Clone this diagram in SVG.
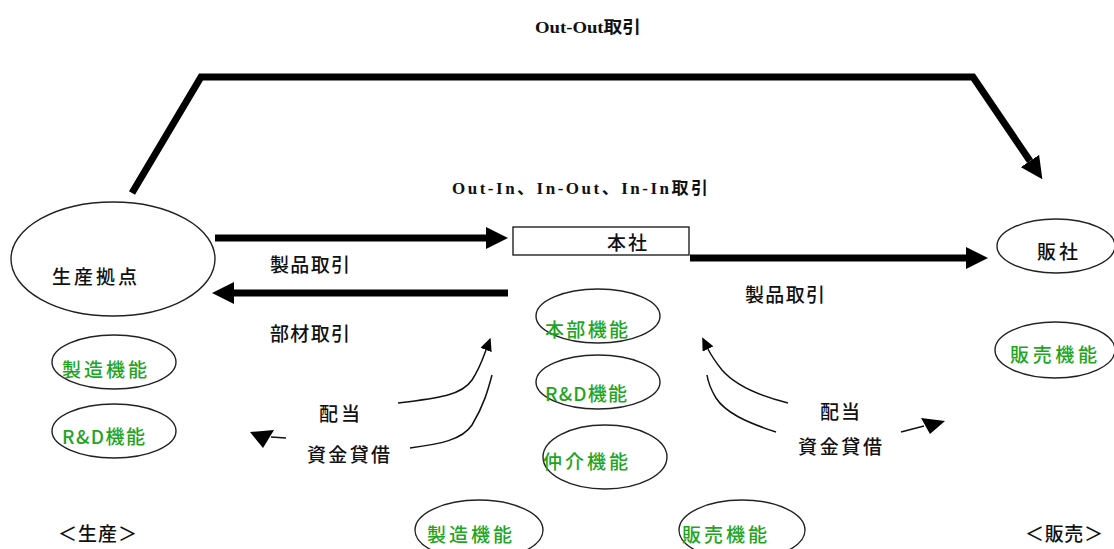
<svg xmlns="http://www.w3.org/2000/svg" width="1114" height="549" viewBox="0 0 1114 549">
<style>
.bg{fill:#ffffff}
.node{fill:none;stroke:#222;stroke-width:1.4}
.box{fill:#fff;stroke:#222;stroke-width:1.4}
.t{font-family:"Noto Sans CJK JP","Noto Sans CJK SC",sans-serif;font-size:19px;font-weight:500;fill:#111;dominant-baseline:central}
.g{font-family:"Noto Sans CJK JP","Noto Sans CJK SC",sans-serif;font-size:19px;font-weight:500;fill:#1fa51f;dominant-baseline:central}
.h{font-family:"Liberation Serif","Noto Sans CJK JP",serif;font-size:17px;font-weight:bold;fill:#111;dominant-baseline:central}
.thick{fill:none;stroke:#000;stroke-width:7}
.thin{fill:none;stroke:#111;stroke-width:1.5}
</style>
<defs>
<marker id="big" markerUnits="userSpaceOnUse" viewBox="0 0 22 22" markerWidth="22" markerHeight="22" refX="0" refY="11" orient="auto">
<path d="M0,0 L22,11 L0,22 z" fill="#000"/>
</marker>
<marker id="small" markerUnits="userSpaceOnUse" viewBox="0 0 13 12" markerWidth="13" markerHeight="12" refX="0" refY="6" orient="auto">
<path d="M0,0 L13,6 L0,12 z" fill="#000"/>
</marker>
</defs>
<rect class="bg" x="0" y="0" width="1114" height="549"/>

<g id="connectors">
<polyline class="thick" points="132,193 201,77 973,77 1030,161" marker-end="url(#big)"/>
<line class="thick" x1="215" y1="238" x2="486" y2="238" marker-end="url(#big)"/>
<line class="thick" x1="690" y1="258" x2="966" y2="258" marker-end="url(#big)"/>
<line class="thick" x1="508" y1="293" x2="234" y2="293" marker-end="url(#big)"/>
<path class="thin" d="M398,403 C440,398 462,395 472,380 C480,368 483,358 486,350" marker-end="url(#small)"/>
<path class="thin" d="M410,448 C440,444 462,440 472,425 C484,405 488,390 492,375"/>
<line class="thin" x1="286" y1="438" x2="271" y2="437"/>
<polygon points="250,432 274,430 263,448" fill="#000"/>
<path class="thin" d="M788,403 C760,396 735,385 722,370 C714,360 710,353 708,349" marker-end="url(#small)"/>
<path class="thin" d="M776,432 C745,422 725,412 716,398 C710,388 708,382 707,375"/>
<line class="thin" x1="901" y1="432" x2="924" y2="426"/>
<polygon points="921,418 945,421 930,434" fill="#000"/>
</g>

<g id="title-outout"><text class="h" x="535" y="27" textLength="106" lengthAdjust="spacingAndGlyphs">Out-Out取引</text></g>
<g id="title-outin"><text class="h" x="452" y="188" textLength="256" lengthAdjust="spacing">Out-In、In-Out、In-In取引</text></g>

<g id="honsha"><rect class="box" x="513" y="227" width="176" height="28"/><text class="t" x="607" y="241" textLength="40" lengthAdjust="spacing">本社</text></g>
<g id="seisan-kyoten"><ellipse class="node" cx="113" cy="259" rx="102" ry="57"/><text class="t" x="52" y="275" textLength="85" lengthAdjust="spacing">生産拠点</text></g>
<g id="hansha"><ellipse class="node" cx="1056" cy="246" rx="59" ry="27"/><text class="t" x="1037" y="250" textLength="41" lengthAdjust="spacing">販社</text></g>

<g id="label-seihin1"><text class="t" x="270" y="263" textLength="80" lengthAdjust="spacing">製品取引</text></g>
<g id="label-buzai"><text class="t" x="270" y="332" textLength="80" lengthAdjust="spacing">部材取引</text></g>
<g id="label-seihin2"><text class="t" x="745" y="293" textLength="80" lengthAdjust="spacing">製品取引</text></g>

<g id="seizo-left"><ellipse class="node" cx="114" cy="362" rx="62" ry="27"/><text class="g" x="62" y="368" textLength="85" lengthAdjust="spacing">製造機能</text></g>
<g id="rd-left"><ellipse class="node" cx="114" cy="431" rx="62" ry="27"/><text class="g" x="62" y="435" textLength="83" lengthAdjust="spacing">R&amp;D機能</text></g>

<g id="honbu"><ellipse class="node" cx="598" cy="316" rx="62" ry="27"/><text class="g" x="545" y="328" textLength="83" lengthAdjust="spacing">本部機能</text></g>
<g id="rd-center"><ellipse class="node" cx="598" cy="382" rx="62" ry="27"/><text class="g" x="545" y="392" textLength="82" lengthAdjust="spacing">R&amp;D機能</text></g>
<g id="chukai"><ellipse class="node" cx="605" cy="457" rx="62" ry="32"/><text class="g" x="543" y="460" textLength="85" lengthAdjust="spacing">仲介機能</text></g>
<g id="seizo-bottom"><ellipse class="node" cx="479" cy="530" rx="64" ry="30"/><text class="g" x="427" y="533" textLength="85" lengthAdjust="spacing">製造機能</text></g>
<g id="hanbai-bottom"><ellipse class="node" cx="742" cy="530" rx="63" ry="30"/><text class="g" x="682" y="533" textLength="85" lengthAdjust="spacing">販売機能</text></g>
<g id="hanbai-right"><ellipse class="node" cx="1055" cy="350" rx="60" ry="28"/><text class="g" x="1010" y="353" textLength="87" lengthAdjust="spacing">販売機能</text></g>

<g id="label-haito-left"><text class="t" x="319" y="412" textLength="41" lengthAdjust="spacing">配当</text></g>
<g id="label-shikin-left"><text class="t" x="307" y="453" textLength="83" lengthAdjust="spacing">資金貸借</text></g>
<g id="label-haito-right"><text class="t" x="820" y="410" textLength="40" lengthAdjust="spacing">配当</text></g>
<g id="label-shikin-right"><text class="t" x="798" y="445" textLength="84" lengthAdjust="spacing">資金貸借</text></g>

<g id="label-seisan"><text class="t" x="58" y="532" textLength="79" lengthAdjust="spacing">＜生産＞</text></g>
<g id="label-hanbai"><text class="t" x="1025" y="532" textLength="78" lengthAdjust="spacing">＜販売＞</text></g>
</svg>
